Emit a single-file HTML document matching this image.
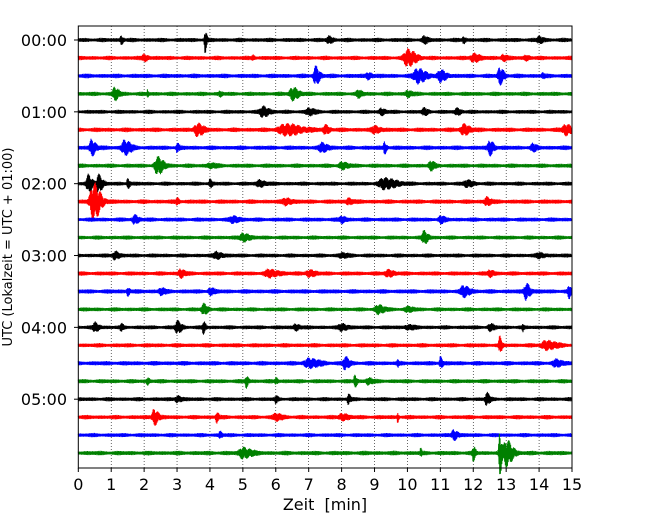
<!DOCTYPE html>
<html><head><meta charset="utf-8"><style>
body{margin:0;background:#fff;}
svg text{font-family:"DejaVu Sans","Liberation Sans",sans-serif;white-space:pre;}
</style></head><body>
<svg id="chart" width="650" height="520" xmlns="http://www.w3.org/2000/svg">
<g id="grid"></g>
<g id="traces"></g>
<rect x="78.3" y="26" width="493.7" height="442" fill="none" stroke="#000" stroke-width="1"/>
<g id="xaxis"></g>
<g id="yaxis"></g>
<text x="325" y="510" font-size="16" text-anchor="middle" xml:space="preserve">Zeit  [min]</text>
<text transform="translate(12,247) rotate(-90)" font-size="13" text-anchor="middle">UTC (Lokalzeit = UTC + 01:00)</text>
</svg>
<script>
const xTicks=[0,1,2,3,4,5,6,7,8,9,10,11,12,13,14,15];
const yTickLabels=["00:00","01:00","02:00","03:00","04:00","05:00"];
const colors=["#000","#f00","#00f","#008000"];
const baseAmp=[2.3,2.3,2.4,2.3,2.2,2.4,2.4,2.3,2.2,2.4,2.3,2.2,2.2,2.3,2.4,2.2,2.2,2.3,2.4,2.3,2.2,2.3,2.2,2.4];
// events per trace: [time(min), peak amplitude(px), duration(min)]
const ev0=[[1.3,4,0.1],[3.85,12,0.08],[7.6,3,0.2],[10.5,3,0.2],[11.7,3,0.1],[14.0,3,0.2]];
const ev1=[[2.0,3,0.2],[5.3,2,0.1],[10.0,8,0.4],[12.0,4,0.3],[12.9,3,0.2],[13.6,2,0.2]];
const ev2=[[7.2,9,0.2],[8.8,3,0.2],[10.3,7,0.4],[11.0,5,0.3],[12.8,8,0.2],[14.1,2,0.1]];
const ev3=[[1.1,6,0.2],[2.1,3,0.05],[4.3,2,0.1],[6.5,6,0.3],[8.5,3,0.2],[10.0,3,0.2]];
const ev4=[[5.6,5,0.3],[7.0,3,0.3],[9.2,3,0.2],[10.5,3,0.2],[11.5,3,0.2]];
const ev5=[[3.6,6,0.3],[6.3,5,0.8],[7.5,4,0.2],[9.0,3,0.3],[11.7,5,0.3],[14.8,5,0.3]];
const ev6=[[0.4,8,0.2],[1.4,7,0.3],[3.0,4,0.1],[7.4,4,0.3],[9.3,6,0.1],[12.5,7,0.2],[13.8,3,0.2]];
const ev7=[[2.4,8,0.3],[4.0,2,0.3],[8.0,3,0.3],[10.7,4,0.2]];
const ev8=[[0.3,8,0.2],[0.6,9,0.2],[1.5,5,0.1],[4.0,4,0.1],[5.5,3,0.3],[9.3,5,0.6],[11.8,3,0.3]];
const ev9=[[0.45,18,0.35],[3.0,3,0.1],[6.3,3,0.3],[8.2,3,0.2],[12.4,4,0.2]];
const ev10=[[1.7,4,0.2],[4.7,3,0.3],[8.0,3,0.2],[11.0,3,0.2]];
const ev11=[[5.0,4,0.3],[10.5,6,0.2]];
const ev12=[[1.1,4,0.2],[4.2,3,0.3],[8.0,2,0.3],[14.0,2,0.3]];
const ev13=[[3.1,4,0.2],[5.8,3,0.5],[7.0,3,0.3],[9.4,3,0.3],[12.5,3,0.2]];
const ev14=[[1.5,4,0.1],[2.5,3,0.2],[4.0,3,0.2],[11.7,5,0.3],[13.6,8,0.2],[14.9,6,0.1]];
const ev15=[[3.8,5,0.2],[9.1,4,0.3],[10.0,2,0.3]];
const ev16=[[0.5,4,0.2],[1.3,3,0.1],[3.0,6,0.2],[3.8,6,0.1],[6.6,3,0.2],[8.0,3,0.3],[10.0,2,0.3],[12.5,3,0.2],[13.5,3,0.05]];
const ev17=[[12.8,8,0.1],[14.2,4,0.5]];
const ev18=[[7.0,4,0.5],[8.1,6,0.2],[9.7,3,0.05],[11.0,6,0.1],[14.5,3,0.3]];
const ev19=[[2.1,3,0.1],[5.1,6,0.1],[6.0,3,0.1],[8.4,6,0.1],[8.8,3,0.2]];
const ev20=[[3.0,3,0.2],[6.0,3,0.1],[8.2,5,0.1],[12.4,6,0.15]];
const ev21=[[2.3,8,0.2],[4.2,5,0.1],[6.0,3,0.3],[8.0,3,0.3],[9.7,5,0.05]];
const ev22=[[4.3,3,0.1],[11.4,5,0.2]];
const ev23=[[5.0,5,0.4],[10.4,4,0.05],[12.0,7,0.1],[12.8,22,0.1],[13.0,13,0.3]];
const events=[ev0,ev1,ev2,ev3,ev4,ev5,ev6,ev7,ev8,ev9,ev10,ev11,ev12,ev13,ev14,ev15,ev16,ev17,ev18,ev19,ev20,ev21,ev22,ev23];

const X0=78.3,X1=572,Y0=40,DY=17.96;
const xs=t=>X0+(X1-X0)*t/15;
const ys=i=>Y0+i*DY;
const NS="http://www.w3.org/2000/svg";
const grid=document.getElementById('grid'),tr=document.getElementById('traces'),xa=document.getElementById('xaxis'),ya=document.getElementById('yaxis');
function mk(tag,attrs,parent){const e=document.createElementNS(NS,tag);for(const k in attrs)e.setAttribute(k,attrs[k]);parent.appendChild(e);return e;}
xTicks.forEach((t,k)=>{
  const x=xs(t);
  if(t>0&&t<15){const g=mk('line',{x1:x,x2:x,y1:26,y2:468,stroke:'#000','stroke-width':0.6,'stroke-dasharray':'1,2'},grid);
  
  }
  const tk=mk('line',{x1:x,x2:x,y1:468,y2:472,stroke:'#000'},xa);
  
  
  const lb=mk('text',{x:x,y:490,'font-size':16,'text-anchor':'middle'},xa);
  lb.textContent=t;
  
  
});
yTickLabels.forEach((s,k)=>{
  const y=ys(k*4);
  const tk=mk('line',{x1:74,x2:78.3,y1:y,y2:y,stroke:'#000'},ya);
  
  
  const lb=mk('text',{x:67,y:y+6,'font-size':16,'text-anchor':'end'},ya);
  lb.textContent=s;
  
  
});
const N=1400;
events.forEach((evs,i)=>{
  const y=ys(i);let pts=[];
  for(let n=0;n<=N;n++){
    const t=15*n/N;
    let env=baseAmp[i]*(0.8+0.2*Math.sin(n*0.113+i)*Math.sin(n*0.031+2*i));
    let spike=0;
    evs.forEach(e=>{const w=e[2]*0.7;const d=(t-e[0])/w;if(Math.abs(d)<4){spike+=e[1]*Math.exp(-d*d*(d<0?6:0.9));}});
    const jag=Math.abs(Math.sin(n*1.37+i*0.9));
    const c=(n%2?1:-1);
    const a=env*(0.55+0.45*Math.abs(Math.sin(n*0.71+i*1.3)))+spike*(0.3+0.7*jag);
    pts.push(xs(t).toFixed(2)+','+(y+a*c).toFixed(2));
  }
  const p=mk('polyline',{points:pts.join(' '),fill:'none',stroke:colors[i%4],'stroke-width':1},tr);
  
  
});
</script>
</body></html>
